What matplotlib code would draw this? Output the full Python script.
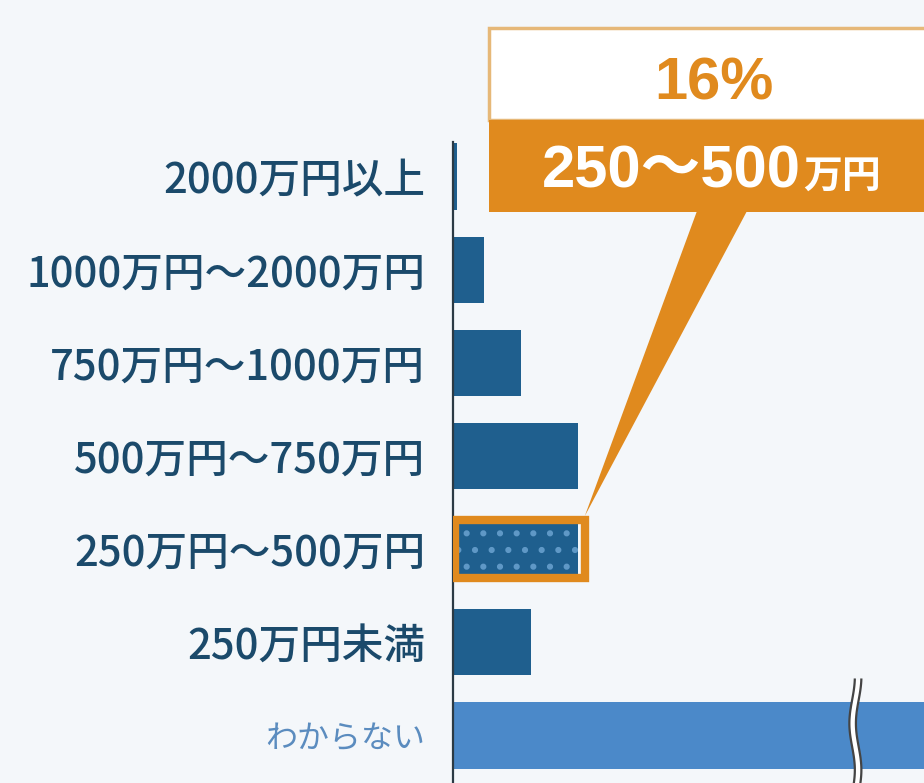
import matplotlib
matplotlib.use("Agg")
import matplotlib.pyplot as plt
from matplotlib.patches import Rectangle, Polygon
import numpy as np

plt.rcParams['font.family'] = ['Noto Sans CJK JP', 'DejaVu Sans']
plt.rcParams['hatch.linewidth'] = 2.0

# data (bottom -> top); the "わからない" bar is cut by an axis break
categories = ["わからない", "250万円未満", "250万円〜500万円", "500万円〜750万円",
              "750万円〜1000万円", "1000万円〜2000万円", "2000万円以上"]
values = [62, 10, 16, 16, 8.7, 4, 0.5]
highlight = "250万円〜500万円"
callout_pct = "16%"
callout_num, callout_unit = "250〜500", "万円"

DARK, LIGHT, ORANGE = "#1f5f8e", "#4b89c9", "#e08a1e"
LABEL_C, LABEL_C2 = "#1b4a6b", "#5b8cbf"
BG = "#f4f7fa"

W, H = 924, 783
fig = plt.figure(figsize=(W / 100, H / 100), dpi=100, facecolor=BG)
ax = fig.add_axes([453 / W, 0, 1 - 453 / W, (H - 142) / H])
ax.set_facecolor(BG)

def fx(px):  # pixel -> figure fraction
    return px / W
def fy(py):
    return 1 - py / H

y = np.arange(len(categories))
hgt = 0.71
colors = [LIGHT if c == "わからない" else DARK for c in categories]
ax.barh(y, values, height=hgt, color=colors, linewidth=0, zorder=2)

# highlighted bar: dotted pattern + orange frame
hi = categories.index(highlight)
ax.barh(hi, values[hi], height=hgt, color=DARK, hatch=".", edgecolor="#5f98c6",
        linewidth=0, zorder=3)
ax.add_patch(Rectangle((0.2, hi - hgt / 2 + 0.04), values[hi] + 0.7, hgt - 0.08,
                       fill=False, edgecolor=ORANGE, linewidth=6, zorder=4))

ax.set_xlim(0, 60.4)
ax.set_ylim(-0.51, 6.37)
ax.set_yticks(y)
ax.set_yticklabels(categories)
ax.tick_params(axis="y", length=0, pad=20)
ax.set_xticks([])
for s in ["top", "right", "bottom"]:
    ax.spines[s].set_visible(False)
ax.spines["left"].set_color("#2b3a44")
ax.spines["left"].set_linewidth(1.6)
for lbl, c in zip(ax.get_yticklabels(), categories):
    if c == "わからない":
        lbl.set_color(LABEL_C2); lbl.set_fontsize(23)
    else:
        lbl.set_color(LABEL_C); lbl.set_fontsize(30); lbl.set_fontweight("medium")

# axis break on the "わからない" bar
bx = 51.6
yy = np.linspace(-0.62, 0.6, 120)
wave = 0.35 * np.sin((yy + 0.62) * 2 * np.pi / 1.0)
gap = 0.42
ax.fill_betweenx(yy, bx + wave - gap, bx + wave + gap, color="white", zorder=5,
                 clip_on=False, linewidth=0)
ax.plot(bx + wave - gap, yy, color="#444", lw=1.6, zorder=6, clip_on=False)
ax.plot(bx + wave + gap, yy, color="#444", lw=1.6, zorder=6, clip_on=False)

# callout
fig.patches.append(Rectangle((fx(489), fy(120)), fx(W - 489 + 10), fy(28) - fy(120),
                             transform=fig.transFigure, facecolor="white",
                             edgecolor="#e6b878", linewidth=2.5, zorder=1))
fig.patches.append(Rectangle((fx(489), fy(212)), fx(W - 489 + 10), fy(120) - fy(212),
                             transform=fig.transFigure, facecolor=ORANGE,
                             edgecolor="none", zorder=1))
tip = ax.transData.transform((values[hi] + 0.9, hi + hgt / 2))
tip = fig.transFigure.inverted().transform(tip)
fig.patches.append(Polygon([(fx(697), fy(211)), (fx(747), fy(211)), tuple(tip)],
                           closed=True, transform=fig.transFigure,
                           facecolor=ORANGE, edgecolor="none", zorder=1))
fig.text(fx(714), fy(100), callout_pct, color=ORANGE, fontsize=43, fontweight="bold",
         ha="center", va="baseline", family=["Liberation Sans", "DejaVu Sans"])
t1 = fig.text(fx(542), fy(188), callout_num, color="white", fontsize=43,
              fontweight="bold", ha="left", va="baseline",
              family=["Liberation Sans", "Noto Sans CJK JP"])
fig.canvas.draw()
bb = t1.get_window_extent()
fig.text(bb.x1 / W + fx(2), fy(188), callout_unit, color="white", fontsize=28,
         fontweight="bold", ha="left", va="baseline")

fig.savefig("out.png", dpi=100, facecolor=BG)
